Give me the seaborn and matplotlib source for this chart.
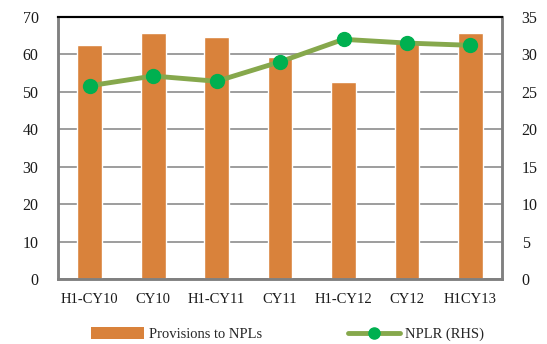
import matplotlib
matplotlib.use("Agg")
import matplotlib.pyplot as plt
from matplotlib.lines import Line2D
from matplotlib.patches import Patch
import seaborn as sns
import pandas as pd

categories = ["H1-CY10", "CY10", "H1-CY11", "CY11", "H1-CY12", "CY12", "H1CY13"]
provisions = [62.6, 65.7, 64.5, 59.3, 52.6, 63.5, 65.7]
nplr = [25.8, 27.1, 26.4, 29.0, 32.0, 31.5, 31.2]

sns.set_theme(style="white")
plt.rcParams["font.family"] = ["Liberation Serif", "DejaVu Serif"]

df = pd.DataFrame({"period": categories, "prov": provisions, "nplr": nplr})

fig = plt.figure(figsize=(5.47, 3.44), dpi=100)
ax = fig.add_axes([0.106, 0.189, 0.812, 0.762])

bar_color = "#D9823B"
line_color = "#86A84C"
marker_color = "#00B050"
grid_color = "#8C8C8C"

sns.barplot(data=df, x="period", y="prov", color=bar_color, width=0.39,
            saturation=1, ax=ax, zorder=2)
ax.set_ylim(0, 70)
ax.set_yticks(range(0, 71, 10))
ax.set_xlabel("")
ax.set_ylabel("")
ax.yaxis.grid(True, color=grid_color, linewidth=1.2, zorder=0)
ax.set_axisbelow(True)

ax2 = ax.twinx()
sns.lineplot(data=df, x="period", y="nplr", color=line_color, linewidth=3.5,
             ax=ax2, zorder=3, sort=False)
ax2.plot(range(len(categories)), nplr, linestyle="none", marker="o",
         markersize=10, color=marker_color, zorder=4)
ax2.set_ylim(0, 35)
ax2.set_yticks(range(0, 36, 5))
ax2.set_ylabel("")
ax2.set_xlabel("")
ax.set_xlim(-0.5, len(categories) - 0.5)

for a in (ax, ax2):
    for side in ("left", "bottom", "right"):
        a.spines[side].set_color("#808080")
        a.spines[side].set_linewidth(1.8)
    a.spines["top"].set_color("black")
    a.spines["top"].set_linewidth(1.5)
    a.tick_params(length=0, labelsize=11.5, colors="#1a1a1a", pad=6)
ax.tick_params(axis="x", labelsize=10.5, pad=10)
ax.tick_params(axis="y", pad=14)
ax2.tick_params(axis="y", pad=14)

handles = [
    Patch(facecolor=bar_color, edgecolor="none"),
    Line2D([0], [0], color=line_color, linewidth=3.5, marker="o",
           markersize=8, markerfacecolor=marker_color,
           markeredgecolor=marker_color),
]
fig.legend(handles, ["Provisions to NPLs", "NPLR (RHS)"], loc="lower center",
           ncol=2, frameon=False, fontsize=10.5, handlelength=3.6,
           handletextpad=0.35, columnspacing=5.9,
           bbox_to_anchor=(0.526, -0.03), handleheight=0.8)

fig.savefig("out.png", dpi=100)
